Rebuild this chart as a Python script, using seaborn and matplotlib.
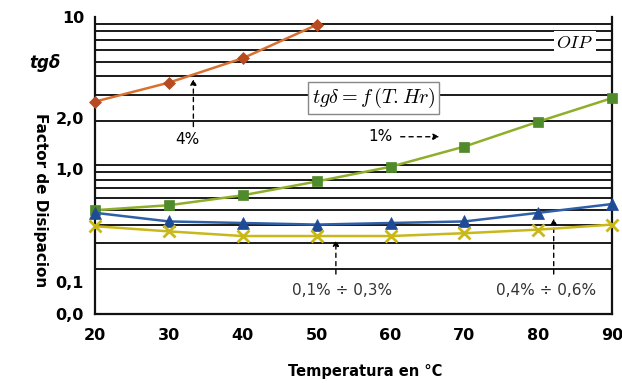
import pandas as pd
import matplotlib
matplotlib.use('Agg')
import matplotlib.pyplot as plt
import seaborn as sns
import numpy as np
from matplotlib.ticker import FixedLocator, LogLocator, NullFormatter

# data (log scale)
temps = [20, 30, 40, 50, 60, 70, 80, 90]
humid_4 = [2.69, 3.61, 5.27, 8.83]
humid_1 = [0.50, 0.54, 0.63, 0.78, 0.98, 1.34, 1.97, 2.84]
humid_04_06 = [0.48, 0.42, 0.41, 0.40, 0.41, 0.42, 0.48, 0.55]
humid_01_03 = [0.39, 0.36, 0.335, 0.335, 0.335, 0.35, 0.37, 0.40]

ytick_pos = [0.1, 0.165, 0.94, 2.1, 10]
ytick_labels = ['0,0', '0,1', '1,0', '2,0', '10']

sns.set_style('white')
plt.rcParams['font.family'] = ['DejaVu Sans']
plt.rcParams['text.color'] = 'black'
plt.rcParams['xtick.color'] = 'black'
plt.rcParams['ytick.color'] = 'black'
plt.rcParams['mathtext.fontset'] = 'cm'

fig = plt.figure(figsize=(6.22, 3.83), dpi=100)
ax = fig.add_axes([0.153, 0.180, 0.831, 0.776])

series = [
    (temps[:4], humid_4, '#d9702f', '#b84a22', 'D', 6),
    (temps, humid_1, '#8fae2a', '#4f8a2b', 's', 7),
    (temps, humid_04_06, '#2f5fa8', '#1f4a96', '^', 8),
    (temps, humid_01_03, '#c9b81a', '#c9b81a', 'x', 8),
]
for xs, ys, lc, mc, mk, ms in series:
    sns.lineplot(x=xs, y=ys, ax=ax, color=lc, lw=1.8, marker=mk,
                 markersize=ms, markerfacecolor=mc, markeredgecolor=mc,
                 markeredgewidth=2 if mk == 'x' else 0.5, clip_on=False,
                 zorder=4)

ax.set_yscale('log')
ax.set_ylim(0.1, 10)
ax.set_xlim(20, 90)
ax.set_xticks(temps)

ax.yaxis.set_major_locator(FixedLocator(ytick_pos))
ax.set_yticklabels(ytick_labels)
ax.yaxis.set_minor_locator(LogLocator(base=10, subs=np.arange(1, 10)))
ax.yaxis.set_minor_formatter(NullFormatter())
ax.grid(False)
ax.yaxis.grid(True, which='minor', color='#1a1a1a', lw=1.4)
ax.tick_params(axis='y', which='both', length=0, pad=8)
ax.tick_params(axis='x', direction='inout', length=8, width=1.3, pad=6)
for lbl in ax.get_xticklabels() + ax.get_yticklabels():
    lbl.set_fontweight('heavy')
    lbl.set_fontsize(11.5)

for side in ['left', 'bottom', 'right']:
    ax.spines[side].set_color('#111111')
    ax.spines[side].set_linewidth(1.6)
ax.spines['top'].set_visible(False)

fig.text(0.587, 0.03, 'Temperatura en °C', fontsize=10.5, fontweight='heavy',
         ha='center', va='center')
fig.text(0.065, 0.478, 'Factor de Disipacion', rotation=-90, fontsize=11,
         fontweight='heavy', ha='center', va='center')
fig.text(0.072, 0.835, 'tgδ', fontsize=12, fontweight='heavy',
         style='italic', ha='center', va='center')

# annotations
ax.text(85.0, 6.7, r'$OIP$', fontsize=13, ha='center', va='center', zorder=5,
        bbox=dict(boxstyle='square,pad=0.15', fc='white', ec='none'))
ax.text(57.7, 2.85, r'$tg\delta = f\,(T.Hr)$', fontsize=14.5,
        ha='center', va='center', zorder=5,
        bbox=dict(boxstyle='square,pad=0.2', fc='white', ec='#888888'))

arrow = dict(arrowstyle='-|>', ls=(0, (3, 3)), color='black', lw=1,
             mutation_scale=9)
ax.annotate('', xy=(33.3, 4.0), xytext=(33.3, 1.75), arrowprops=arrow)
ax.text(32.5, 1.5, '4%', fontsize=11, ha='center', va='center')
ax.annotate('', xy=(67.0, 1.56), xytext=(61.0, 1.56), arrowprops=arrow)
ax.text(58.7, 1.56, '1%', fontsize=11, ha='center', va='center')
ax.annotate('', xy=(52.6, 0.33), xytext=(52.6, 0.178), arrowprops=arrow)
ax.text(53.5, 0.145, '0,1% ÷ 0,3%', fontsize=11, ha='center', va='center',
        color='#333333')
ax.annotate('', xy=(82.1, 0.46), xytext=(82.1, 0.178), arrowprops=arrow)
ax.text(81.0, 0.145, '0,4% ÷ 0,6%', fontsize=11, ha='center', va='center',
        color='#333333')

fig.savefig('out.png', dpi=100)
